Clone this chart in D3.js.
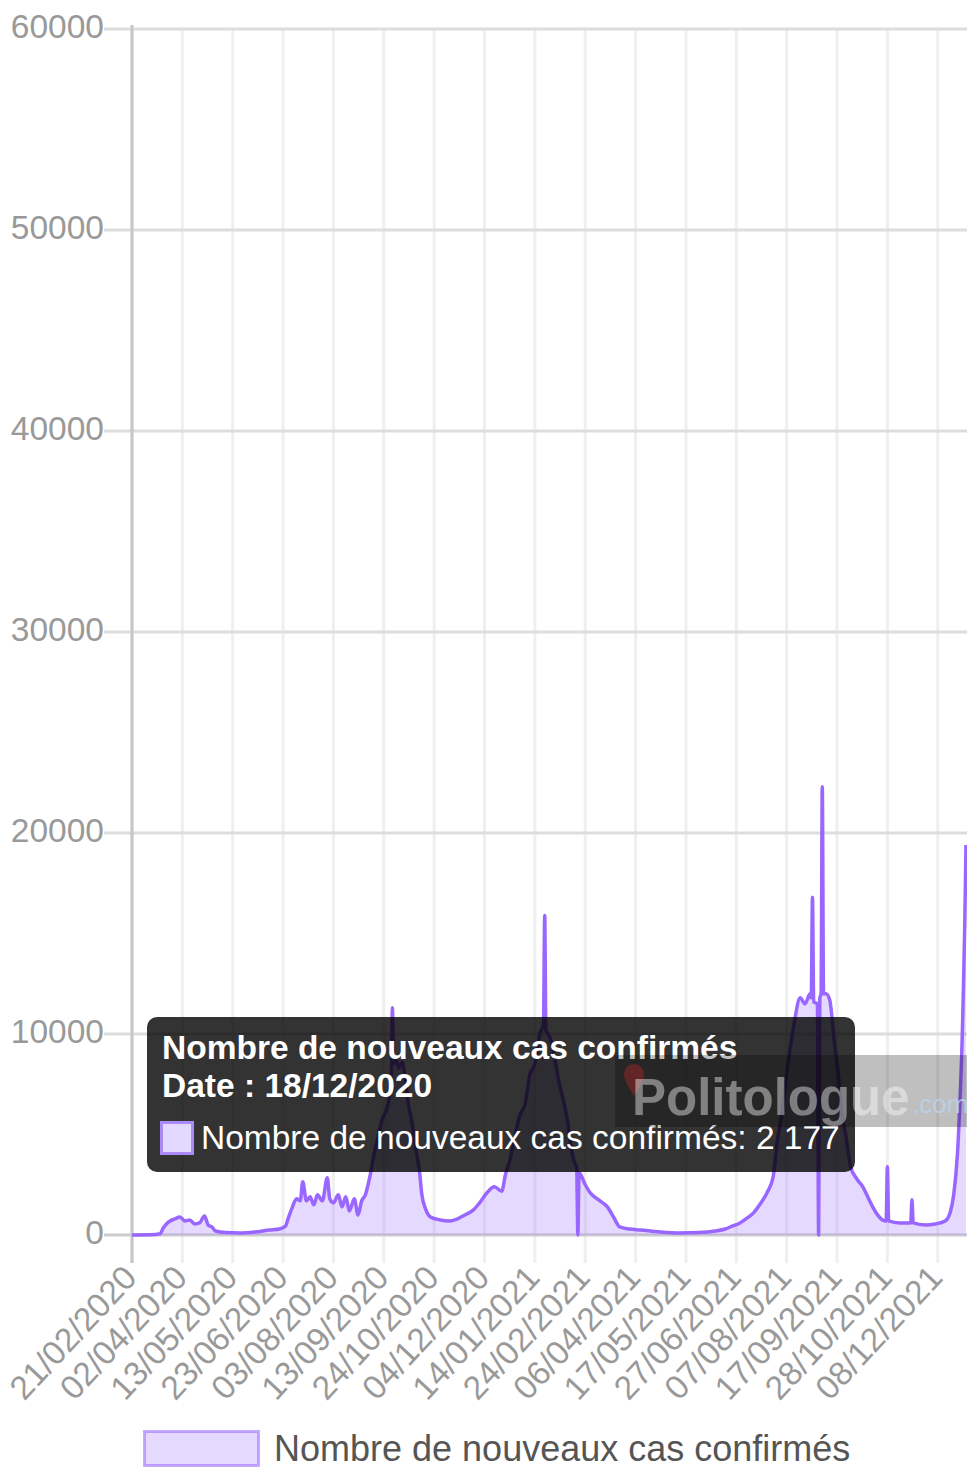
<!DOCTYPE html>
<html>
<head>
<meta charset="utf-8">
<script src="https://cdn.jsdelivr.net/npm/d3@7"></script>
<style>
  body { margin: 0; background: #fff; }
  svg { display: block; font-family: "Liberation Sans", Arial, Helvetica, sans-serif; }
</style>
</head>
<body>
<svg id="chart" width="967" height="1468"></svg>
<script>
// values
var dates = [
  "2020-02-21", "2020-03-07", "2020-03-15", "2020-03-17", "2020-03-20", "2020-03-23", "2020-03-27",
  "2020-03-31", "2020-04-04", "2020-04-08", "2020-04-12", "2020-04-16", "2020-04-20", "2020-04-23",
  "2020-04-26", "2020-04-29", "2020-05-07", "2020-05-19", "2020-05-31", "2020-06-12", "2020-06-20",
  "2020-06-25", "2020-06-27", "2020-06-30", "2020-07-04", "2020-07-07", "2020-07-09", "2020-07-12",
  "2020-07-15", "2020-07-18", "2020-07-21", "2020-07-25", "2020-07-29", "2020-07-31", "2020-08-03",
  "2020-08-07", "2020-08-10", "2020-08-13", "2020-08-16", "2020-08-20", "2020-08-23", "2020-08-26",
  "2020-08-29", "2020-09-02", "2020-09-05", "2020-09-08", "2020-09-12", "2020-09-15", "2020-09-18",
  "2020-09-19", "2020-09-20", "2020-09-21", "2020-09-23", "2020-09-25", "2020-09-28", "2020-09-30",
  "2020-10-03", "2020-10-06", "2020-10-09", "2020-10-12", "2020-10-14", "2020-10-17", "2020-10-21",
  "2020-10-29", "2020-11-06", "2020-11-12", "2020-11-18", "2020-11-25", "2020-11-30", "2020-12-06",
  "2020-12-12", "2020-12-18", "2020-12-21", "2020-12-25", "2020-12-29", "2021-01-02", "2021-01-06",
  "2021-01-10", "2021-01-14", "2021-01-18", "2021-01-21", "2021-01-22", "2021-01-23", "2021-01-25",
  "2021-01-28", "2021-01-31", "2021-02-03", "2021-02-07", "2021-02-10", "2021-02-13", "2021-02-16",
  "2021-02-17", "2021-02-18", "2021-02-19", "2021-02-24", "2021-02-28", "2021-03-08", "2021-03-14",
  "2021-03-19", "2021-03-24", "2021-04-01", "2021-04-10", "2021-04-26", "2021-05-12", "2021-05-28",
  "2021-06-10", "2021-06-18", "2021-06-24", "2021-06-30", "2021-07-06", "2021-07-11", "2021-07-16",
  "2021-07-22", "2021-07-27", "2021-07-30", "2021-08-03", "2021-08-08", "2021-08-13", "2021-08-18",
  "2021-08-22", "2021-08-26", "2021-08-27", "2021-08-28", "2021-08-29", "2021-09-01", "2021-09-02",
  "2021-09-03", "2021-09-04", "2021-09-05", "2021-09-06", "2021-09-08", "2021-09-11", "2021-09-15",
  "2021-09-18", "2021-09-21", "2021-09-24", "2021-09-28", "2021-10-03", "2021-10-08", "2021-10-12",
  "2021-10-16", "2021-10-20", "2021-10-24", "2021-10-27", "2021-10-28", "2021-10-29", "2021-11-07",
  "2021-11-16", "2021-11-17", "2021-11-18", "2021-11-28", "2021-12-06", "2021-12-14", "2021-12-18",
  "2021-12-21", "2021-12-24", "2021-12-26", "2021-12-28", "2021-12-29", "2021-12-30", "2021-12-31"
];
var cases = [
  0, 10, 60, 300, 550, 700, 800,
  900, 700, 750, 550, 600, 950, 500,
  400, 200, 120, 100, 150, 250, 300,
  450, 800, 1300, 1800, 1700, 2650, 1700,
  1900, 1500, 2000, 1700, 2850, 1800, 1600,
  2000, 1400, 1900, 1200, 1800, 1000, 1700,
  2000, 3000, 4000, 4800, 5800, 6200, 7000,
  7500, 11300, 8500, 8800, 8300, 8600, 8000,
  6500, 5600, 4300, 3200, 2000, 1300, 900,
  750, 700, 800, 1000, 1250, 1600, 2100,
  2400, 2177, 3000, 3800, 5000, 6000, 6500,
  8000, 8500, 10000, 10500, 15900, 10200, 10000,
  9500, 8500, 7500, 6500, 5500, 4200, 3500,
  3400, 0, 3100, 2500, 2100, 1700, 1400,
  900, 400, 300, 250, 150, 100, 120,
  200, 300, 450, 600, 850, 1100, 1500,
  2100, 2900, 4500, 6000, 8500, 10500, 11800,
  11500, 12000, 11800, 16800, 11600, 11500, 0,
  11800, 12000, 22300, 12000, 12000, 11700, 9500,
  8000, 6000, 5000, 3400, 2800, 2400, 1900,
  1400, 1000, 750, 700, 3400, 700, 600,
  600, 1750, 600, 500, 550, 700, 1100,
  2000, 4000, 6500, 10000, 12500, 15500, 19400
];
var yTicks = [0, 10000, 20000, 30000, 40000, 50000, 60000];
var xTickLabels = [
  "21/02/2020", "02/04/2020", "13/05/2020", "23/06/2020", "03/08/2020", "13/09/2020",
  "24/10/2020", "04/12/2020", "14/01/2021", "24/02/2021", "06/04/2021", "17/05/2021",
  "27/06/2021", "07/08/2021", "17/09/2021", "28/10/2021", "08/12/2021"
];
var seriesName = "Nombre de nouveaux cas confirmés";
var tooltipDate = "18/12/2020";
var tooltipValue = 2177;

var svg = d3.select("#chart");

// plot area (names chosen so they don't clash with window.top etc.)
var plotLeft = 132, plotRight = 966, plotTop = 29, plotBottom = 1235;
var tickLen = 28;
var fontSize = 33.5;

var parseDay = d3.utcParse("%Y-%m-%d");
var parseLabel = d3.utcParse("%d/%m/%Y");

var series = dates.map(function (d, i) {
  return { date: parseDay(d), value: cases[i] };
});

var xScale = d3.scaleUtc()
  .domain([parseDay("2020-02-21"), parseDay("2021-12-31")])
  .range([plotLeft, plotRight]);

var yScale = d3.scaleLinear()
  .domain([0, 60000])
  .range([plotBottom, plotTop]);

var frFormat = d3.formatLocale({ decimal: ",", thousands: " ", grouping: [3], currency: ["", " €"] }).format(",d");

plotGrid();
plotSeries();
plotTooltip();
plotWatermark();
plotLabels();
plotLegend();

function plotGrid() {
  // vertical grid lines, one per shown date label
  svg.append("g").selectAll("line")
    .data(xTickLabels)
    .enter().append("line")
    .attr("x1", function (d) { return xScale(parseLabel(d)); })
    .attr("x2", function (d) { return xScale(parseLabel(d)); })
    .attr("y1", plotTop)
    .attr("y2", plotBottom + tickLen)
    .attr("stroke", "#efefef")
    .attr("stroke-width", 3);

  // horizontal grid lines
  svg.append("g").selectAll("line")
    .data(yTicks.filter(function (v) { return v > 0; }))
    .enter().append("line")
    .attr("x1", plotLeft - tickLen)
    .attr("x2", 967)
    .attr("y1", function (d) { return yScale(d); })
    .attr("y2", function (d) { return yScale(d); })
    .attr("stroke", "#dddddd")
    .attr("stroke-width", 3);

  // zero line
  svg.append("line")
    .attr("x1", plotLeft - tickLen).attr("x2", 967)
    .attr("y1", yScale(0)).attr("y2", yScale(0))
    .attr("stroke", "#cccccc")
    .attr("stroke-width", 3);

  // y axis line
  svg.append("line")
    .attr("x1", plotLeft).attr("x2", plotLeft)
    .attr("y1", plotTop - 4).attr("y2", plotBottom + tickLen)
    .attr("stroke", "#c6c6c6")
    .attr("stroke-width", 3);
}

function plotSeries() {
  var area = d3.area()
    .x(function (d) { return xScale(d.date); })
    .y0(yScale(0))
    .y1(function (d) { return yScale(d.value); })
    .curve(d3.curveMonotoneX);

  var line = d3.line()
    .x(function (d) { return xScale(d.date); })
    .y(function (d) { return yScale(d.value); })
    .curve(d3.curveMonotoneX);

  svg.append("path")
    .datum(series)
    .attr("d", area)
    .attr("fill", "rgba(153,102,255,0.25)");

  svg.append("path")
    .datum(series)
    .attr("d", line)
    .attr("fill", "none")
    .attr("stroke", "#9966ff")
    .attr("stroke-width", 3.5)
    .attr("stroke-linejoin", "round");
}

function plotTooltip() {
  var g = svg.append("g");
  g.append("rect")
    .attr("x", 147).attr("y", 1017)
    .attr("width", 708).attr("height", 155)
    .attr("rx", 10)
    .attr("fill", "rgba(0,0,0,0.8)");

  g.append("text")
    .attr("x", 162).attr("y", 1059)
    .attr("fill", "#fff")
    .attr("font-weight", "bold")
    .attr("font-size", fontSize)
    .text(seriesName);

  g.append("text")
    .attr("x", 162).attr("y", 1097)
    .attr("fill", "#fff")
    .attr("font-weight", "bold")
    .attr("font-size", fontSize)
    .text("Date : " + tooltipDate);

  g.append("rect")
    .attr("x", 161.5).attr("y", 1122.5)
    .attr("width", 31).attr("height", 31)
    .attr("fill", "#e3d9ff")
    .attr("stroke", "#a98af7")
    .attr("stroke-width", 3);

  g.append("text")
    .attr("x", 201).attr("y", 1149)
    .attr("fill", "#fff")
    .attr("font-size", fontSize)
    .text(seriesName + ": " + frFormat(tooltipValue));
}

function plotWatermark() {
  var g = svg.append("g");
  g.append("rect")
    .attr("x", 615).attr("y", 1055)
    .attr("width", 352).attr("height", 72)
    .attr("fill", "rgba(0,0,0,0.25)");

  // little red pin
  g.append("path")
    .attr("d", "M634,1096 C628,1086 624,1080 624,1074 A10,10 0 1 1 644,1074 C644,1080 640,1086 634,1096 Z")
    .attr("fill", "rgba(190,40,40,0.4)");

  g.append("text")
    .attr("x", 632).attr("y", 1115)
    .attr("fill", "rgba(255,255,255,0.42)")
    .attr("font-weight", "bold")
    .attr("font-size", 51)
    .text("Politologue");

  g.append("text")
    .attr("x", 912).attr("y", 1113)
    .attr("fill", "rgba(185,210,235,0.85)")
    .attr("font-size", 26)
    .text(".com");
}

function plotLabels() {
  // y tick labels
  svg.append("g").selectAll("text")
    .data(yTicks)
    .enter().append("text")
    .attr("x", plotLeft - tickLen)
    .attr("y", function (d) { return yScale(d) - 3; })
    .attr("dy", "0.35em")
    .attr("text-anchor", "end")
    .attr("fill", "#999")
    .attr("font-size", fontSize)
    .text(function (d) { return d3.format("d")(d); });

  // x tick labels, rotated
  svg.append("g").selectAll("text")
    .data(xTickLabels)
    .enter().append("text")
    .attr("transform", function (d) {
      return "translate(" + (xScale(parseLabel(d)) - 2) + "," + (plotBottom + 36) + ")rotate(-47)";
    })
    .attr("dy", "0.35em")
    .attr("text-anchor", "end")
    .attr("fill", "#999")
    .attr("font-size", fontSize)
    .text(function (d) { return d; });
}

function plotLegend() {
  svg.append("rect")
    .attr("x", 144.5).attr("y", 1431.5)
    .attr("width", 114).attr("height", 34)
    .attr("fill", "rgba(153,102,255,0.25)")
    .attr("stroke", "rgba(153,102,255,0.55)")
    .attr("stroke-width", 3);

  svg.append("text")
    .attr("x", 274).attr("y", 1448)
    .attr("dy", "0.35em")
    .attr("fill", "#555")
    .attr("font-size", 36)
    .text(seriesName);
}
</script>
</body>
</html>
